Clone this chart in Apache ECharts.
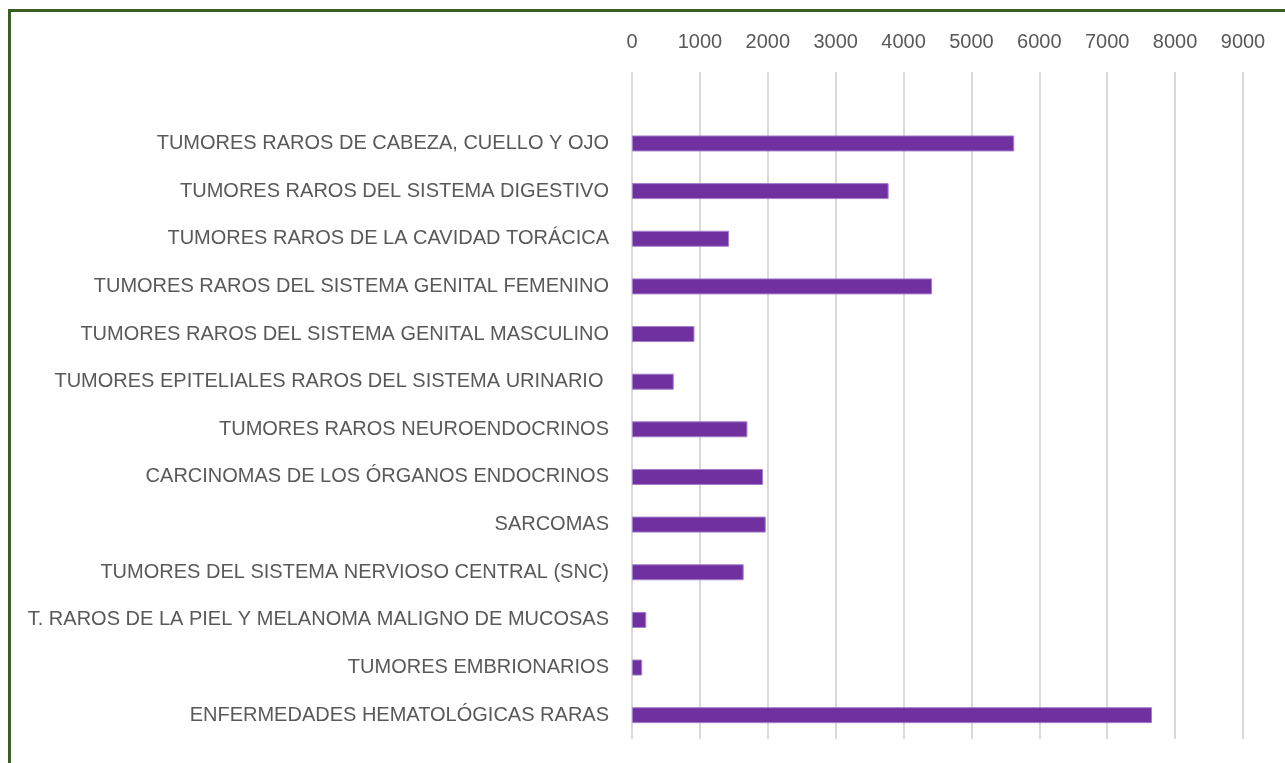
<!DOCTYPE html>
<html><head><meta charset="utf-8">
<script src="https://cdn.jsdelivr.net/npm/echarts@6/dist/echarts.min.js"></script>
<style>
html,body{margin:0;padding:0;background:#fff;overflow:hidden}
#frame{position:absolute;left:8px;top:9px;width:1290px;height:770px;border:3px solid #3b5e27;box-sizing:border-box}
#c{position:absolute;left:0;top:0;width:1285px;height:763px}
</style></head>
<body>
<div id="frame"></div>
<div id="c"></div>
<script>
const categories = [
  "",
  "TUMORES RAROS DE CABEZA, CUELLO Y OJO",
  "TUMORES RAROS DEL SISTEMA DIGESTIVO",
  "TUMORES RAROS DE LA CAVIDAD TORÁCICA",
  "TUMORES RAROS DEL SISTEMA GENITAL FEMENINO",
  "TUMORES RAROS DEL SISTEMA GENITAL MASCULINO",
  "TUMORES EPITELIALES RAROS DEL SISTEMA URINARIO ",
  "TUMORES RAROS NEUROENDOCRINOS",
  "CARCINOMAS DE LOS ÓRGANOS ENDOCRINOS",
  "SARCOMAS",
  "TUMORES DEL SISTEMA NERVIOSO CENTRAL (SNC)",
  "T. RAROS DE LA PIEL Y MELANOMA MALIGNO DE MUCOSAS",
  "TUMORES EMBRIONARIOS",
  "ENFERMEDADES HEMATOLÓGICAS RARAS"
];
const values = [null, 5630, 3780, 1430, 4420, 920, 615, 1700, 1930, 1970, 1645, 210, 150, 7660];
const xTicks = [0, 1000, 2000, 3000, 4000, 5000, 6000, 7000, 8000, 9000];

const chart = echarts.init(document.getElementById('c'), null, {renderer:'canvas'});
const font = "'Liberation Sans', sans-serif";
chart.setOption({
  animation:false,
  grid:{left:632, right:42, top:72, bottom:24, containLabel:false},
  xAxis:{
    type:'value', position:'top', min:xTicks[0], max:xTicks[xTicks.length-1], interval:1000,
    axisLine:{show:false}, axisTick:{show:false},
    axisLabel:{color:'#595959', fontSize:20, fontFamily:font, margin:20, formatter:v => String(v)},
    splitLine:{show:true, lineStyle:{color:'#d9d9d9', width:2}}
  },
  yAxis:{
    type:'category', data:categories, inverse:true,
    axisLine:{show:false}, axisTick:{show:false},
    axisLabel:{color:'#595959', fontSize:20, fontFamily:font, margin:23}
  },
  series:[{
    type:'bar', data:values, barWidth:16,
    itemStyle:{color:'#7030a0', borderColor:'#a47fcb', borderWidth:1}
  }]
});
</script>
</body></html>
